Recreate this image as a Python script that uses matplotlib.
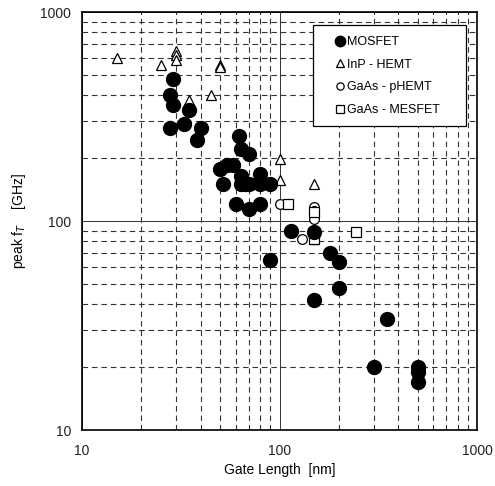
import matplotlib
matplotlib.use("Agg")
import matplotlib.pyplot as plt
from matplotlib.patches import Rectangle
from matplotlib.ticker import FixedLocator, FixedFormatter, NullFormatter

plt.rcParams["font.family"] = ["Liberation Sans", "DejaVu Sans"]

# MOSFET (filled circles)
mos_x = [29, 28, 29, 35, 28, 33, 40, 38, 62, 64, 70, 50, 54, 58, 64, 80,
         52, 64, 67, 70, 80, 90, 60, 70, 80, 114, 150, 89, 180, 200, 200,
         150, 350, 300, 500, 500, 500]
mos_y = [480, 400, 360, 340, 280, 290, 280, 245, 255, 222, 209, 178, 185,
         185, 165, 168, 150, 150, 150, 150, 150, 150, 120, 114, 120, 90, 89,
         65, 70, 64, 48, 42, 34, 20, 20, 19, 17]

# InP-HEMT (open triangles)
inp_x = [15, 25, 30, 30, 30, 35, 45, 50, 50, 100, 100, 150, 150]
inp_y = [600, 560, 650, 620, 590, 380, 400, 560, 545, 197, 157, 150, 82]

# GaAs-pHEMT (open circles)
phemt_x = [100, 150, 150, 150, 150, 130]
phemt_y = [120, 117, 112, 107, 102, 82]

# GaAs-MESFET (open squares)
mes_x = [110, 150, 150, 245]
mes_y = [120, 111, 82, 89]

ticks = [10, 100, 1000]
tick_labels = ["10", "100", "1000"]

fig = plt.figure(figsize=(4.95, 4.86), dpi=100)
ax = fig.add_axes([0.1657, 0.1152, 0.7979, 0.8601])

ax.set_xscale("log")
ax.set_yscale("log")
ax.set_xlim(10, 1000)
ax.set_ylim(10, 1000)

minors = [m * d for d in (10, 100) for m in range(2, 10)]
for axis in (ax.xaxis, ax.yaxis):
    axis.set_major_locator(FixedLocator(ticks))
    axis.set_major_formatter(FixedFormatter(tick_labels))
    axis.set_minor_locator(FixedLocator(minors))
    axis.set_minor_formatter(NullFormatter())
ax.tick_params(which="both", length=0, labelsize=10, colors="#222222")
ax.tick_params(axis="x", pad=10)
ax.tick_params(axis="y", pad=8)

ax.grid(which="major", color="#333333", lw=0.7, ls="-")
ax.grid(which="minor", color="#333333", lw=0.8, ls=(0, (5, 3.5)))
ax.set_axisbelow(True)
for sp in ax.spines.values():
    sp.set_linewidth(1.2)
    sp.set_color("black")

ax.plot(mos_x, mos_y, "o", ms=10, mfc="black", mec="black", ls="none",
        label="MOSFET", zorder=4)
ax.plot(inp_x, inp_y, "^", ms=7, mfc="white", mec="black", mew=0.9,
        ls="none", label="InP - HEMT", zorder=3)
ax.plot(phemt_x, phemt_y, "o", ms=7, mfc="white", mec="black", mew=0.9,
        ls="none", label="GaAs - pHEMT", zorder=3)
ax.plot(mes_x, mes_y, "s", ms=7, mfc="white", mec="black", mew=0.9,
        ls="none", label="GaAs - MESFET", zorder=3)

# legend box drawn separately (wide side padding like the original)
ax.add_patch(Rectangle((0.5848, 0.7273), 0.3873, 0.2416, transform=ax.transAxes,
                       facecolor="white", edgecolor="black", lw=0.9, zorder=5))
leg = ax.legend(loc="upper left", bbox_to_anchor=(0.615, 0.969),
                borderaxespad=0, fontsize=9, handlelength=0.6,
                handletextpad=0.3, labelspacing=0.85, borderpad=0.9,
                frameon=False, markerscale=0.75)
leg.set_zorder(6)

ax.set_xlabel("Gate Length  [nm]", fontsize=10, labelpad=4)
ax.set_ylabel("peak f$_T$    [GHz]", fontsize=10, labelpad=9)

fig.savefig("out.png", dpi=100)
